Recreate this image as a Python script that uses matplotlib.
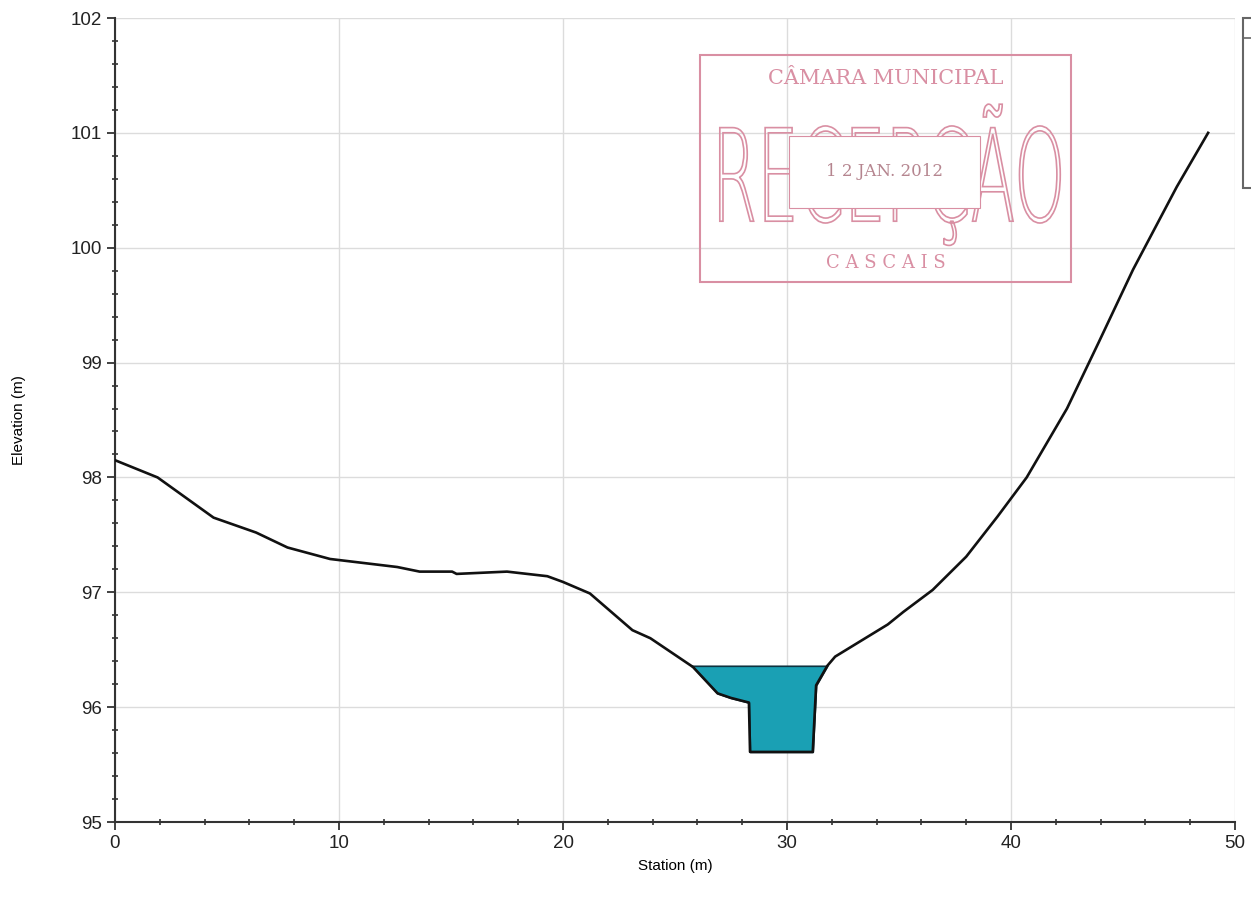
import matplotlib
matplotlib.use("Agg")
import matplotlib.pyplot as plt
import numpy as np
from matplotlib.patches import Rectangle, PathPatch
from matplotlib.textpath import TextPath
from matplotlib.font_manager import FontProperties
from matplotlib.transforms import Affine2D
from matplotlib.ticker import MultipleLocator

# ---- data ----
station = [0, 1.9, 4.4, 6.3, 7.7, 9.6, 12.6, 13.6, 14.5, 15.05, 15.25, 17.5, 19.3,
           20.0, 21.2, 23.1, 23.9, 25.8, 26.9, 27.5, 28.3, 28.35, 31.15, 31.3,
           31.8, 32.15, 34.5, 35.2, 36.5, 38.0, 39.4, 40.7, 42.5, 43.9, 45.45,
           47.4, 48.8]
elevation = [98.15, 98.0, 97.65, 97.52, 97.39, 97.29, 97.22, 97.18, 97.18, 97.18,
             97.16, 97.18, 97.14, 97.09, 96.99, 96.67, 96.6, 96.35, 96.12, 96.08,
             96.04, 95.61, 95.61, 96.19, 96.36, 96.44, 96.72, 96.83, 97.02, 97.31,
             97.66, 98.0, 98.6, 99.17, 99.81, 100.53, 101.0]
water_level = 96.36
x_ticks = [0, 10, 20, 30, 40, 50]
y_ticks = [95, 96, 97, 98, 99, 100, 101, 102]

plt.rcParams['font.family'] = ['Liberation Sans', 'DejaVu Sans']

W, H = 1251, 905
fig = plt.figure(figsize=(W / 100, H / 100), dpi=100)
ax = fig.add_axes([115 / W, (H - 822) / H, 1120 / W, 804 / H])

x = np.array(station)
g = np.array(elevation)

# water fill
ax.fill_between(x, g, water_level, where=g <= water_level + 1e-9, interpolate=True,
                facecolor='#1aa0b4', edgecolor='#0d3340', linewidth=1.2, zorder=3)
ax.plot(x, g, color='#111111', linewidth=1.9, zorder=4, solid_joinstyle='round')

ax.set_xlim(0, 50)
ax.set_ylim(95, 102)
ax.set_xticks(x_ticks)
ax.set_yticks(y_ticks)
ax.xaxis.set_minor_locator(MultipleLocator(2))
ax.yaxis.set_minor_locator(MultipleLocator(0.2))
ax.grid(True, which='major', color='#dcdcdc', linewidth=1.0, zorder=0)
ax.set_axisbelow(True)
for s in ['top', 'right']:
    ax.spines[s].set_visible(False)
for s in ['left', 'bottom']:
    ax.spines[s].set_linewidth(1.5)
    ax.spines[s].set_color('#333333')
ax.tick_params(which='major', direction='out', length=6, width=1.3, labelsize=13.5,
               colors='#333333', labelcolor='#222222')
ax.tick_params(which='minor', direction='inout', length=5, width=1.2, colors='#333333')
ax.set_xlabel('Station (m)', fontsize=11, labelpad=5)
ax.set_ylabel('Elevation (m)', fontsize=11, labelpad=32)

# ---- stamp (scanned mark) ----
stamp_col = '#d98fa3'
ax.add_patch(Rectangle((26.1, 99.70), 16.6, 1.98, facecolor='none', edgecolor=stamp_col,
                       linewidth=1.5, zorder=5))
ax.text(34.4, 101.47, 'CÂMARA MUNICIPAL', fontsize=15, family='DejaVu Serif',
        color=stamp_col, ha='center', va='center', zorder=6)
ax.text(34.4, 99.87, 'C A S C A I S', fontsize=13, family='DejaVu Serif',
        color=stamp_col, ha='center', va='center', zorder=6)
tp = TextPath((0, 0), 'RECEPÇÃO', size=1, prop=FontProperties(family='DejaVu Sans', weight='light'))
ext = tp.get_extents()
x0, x1, y0, y1 = 27.0, 42.2, 100.02, 101.25
tr = (Affine2D().translate(-ext.x0, -ext.y0)
      .scale((x1 - x0) / ext.width, (y1 - y0) / ext.height).translate(x0, y0))
ax.add_patch(PathPatch(tr.transform_path(tp), facecolor='none', edgecolor=stamp_col,
                       linewidth=1.2, zorder=5))
ax.add_patch(Rectangle((30.1, 100.35), 8.5, 0.62, facecolor='white', edgecolor=stamp_col,
                       linewidth=0.8, zorder=6))
ax.text(34.35, 100.66, '1 2 JAN. 2012', fontsize=12, family='DejaVu Serif',
        color='#b5858f', ha='center', va='center', zorder=7)

# ---- truncated legend box at right edge ----
fig.add_artist(Rectangle((1243 / W, (H - 188) / H), 30 / W, 170 / H, transform=fig.transFigure,
                         facecolor='white', edgecolor='#666666', linewidth=1.5, clip_on=False))
fig.add_artist(plt.Line2D([1243 / W, 1.0], [(H - 38) / H] * 2, transform=fig.transFigure,
                          color='#666666', linewidth=1.2))

fig.savefig('out.png', dpi=100)
